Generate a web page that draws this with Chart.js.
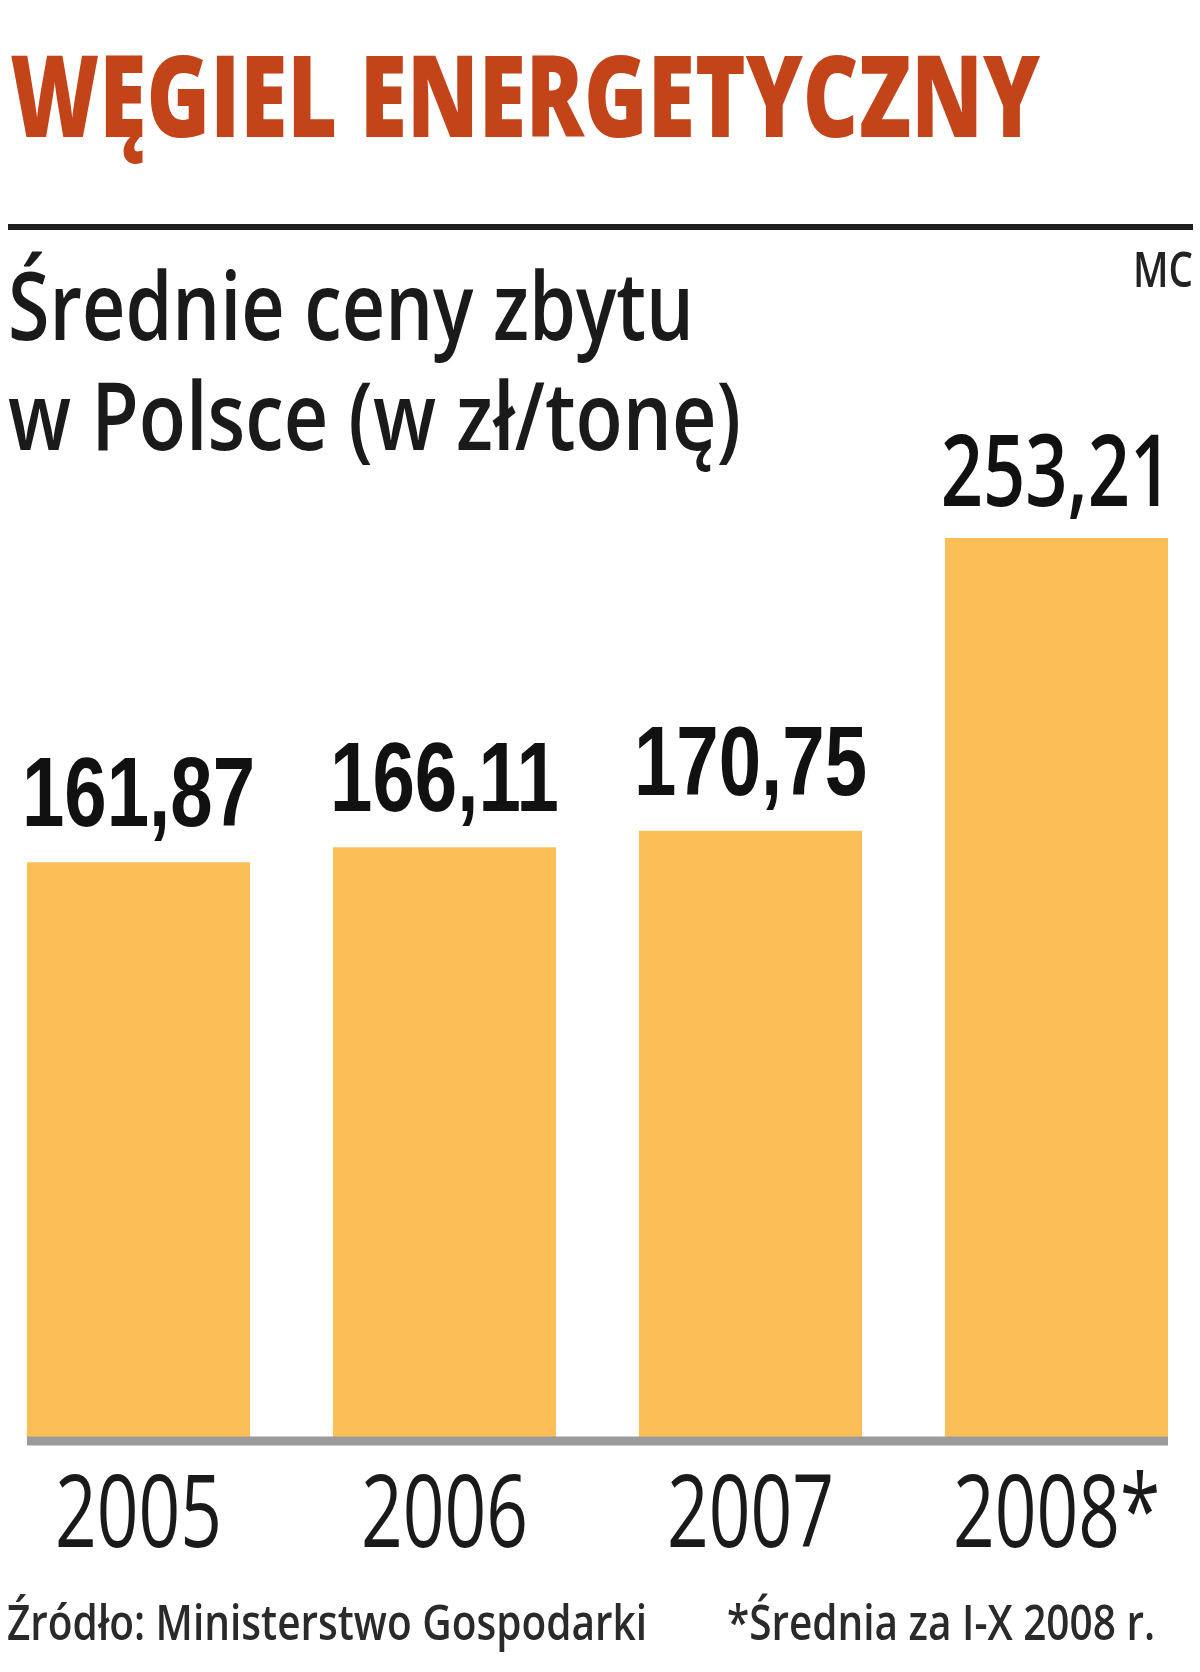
<!DOCTYPE html>
<html>
<head>
<meta charset="utf-8">
<script src="https://cdn.jsdelivr.net/npm/chart.js@4/dist/chart.umd.min.js"></script>
<style>
  html, body { margin: 0; padding: 0; background: #fff; }
  #wrap { width: 1200px; height: 1672px; }
</style>
</head>
<body>
<div id="wrap"><canvas id="wegiel"></canvas></div>
<script>
// dane
const years = ["2005", "2006", "2007", "2008*"];
const prices = [161.87, 166.11, 170.75, 253.21];

const tytul = "WĘGIEL ENERGETYCZNY";
const podtytul = ["Średnie ceny zbytu", "w Polsce (w zł/tonę)"];
const zrodlo = "Źródło: Ministerstwo Gospodarki";
const przypis = "*Średnia za I-X 2008 r.";
const autor = "MC";

// tekst sciskany do zadanej szerokosci
function fitText(ctx, txt, x, y, font, color, width, align) {
  ctx.save();
  ctx.font = font;
  ctx.fillStyle = color;
  ctx.textBaseline = "alphabetic";
  ctx.textAlign = "left";
  const w = ctx.measureText(txt).width;
  const sx = width / w;
  const left = align === "right" ? x - width : (align === "center" ? x - width / 2 : x);
  ctx.translate(left, y);
  ctx.scale(sx, 1);
  ctx.fillText(txt, 0, 0);
  ctx.restore();
}

function squeezeText(ctx, txt, x, y, font, color, sx) {
  ctx.save();
  ctx.font = font;
  ctx.fillStyle = color;
  ctx.textBaseline = "alphabetic";
  ctx.textAlign = "center";
  ctx.translate(x, y);
  ctx.scale(sx, 1);
  ctx.fillText(txt, 0, 0);
  ctx.restore();
}

const opisy = {
  id: "opisy",
  beforeDraw(chart) {
    const ctx = chart.ctx;
    ctx.save();
    ctx.fillStyle = "#fff";
    ctx.fillRect(0, 0, chart.width, chart.height);
    ctx.restore();

    fitText(ctx, tytul, 10, 137, "800 114px 'Open Sans'", "#c4441a", 1030);

    ctx.save();
    ctx.strokeStyle = "#1e1e1e";
    ctx.lineWidth = 6;
    ctx.beginPath();
    ctx.moveTo(8, 227);
    ctx.lineTo(1193, 227);
    ctx.stroke();
    ctx.restore();

    fitText(ctx, autor, 1193, 287, "600 48px 'Open Sans'", "#222", 60, "right");
    fitText(ctx, podtytul[0], 8, 340, "600 95px 'Open Sans'", "#1a1a1a", 686);
    fitText(ctx, podtytul[1], 8, 450, "600 95px 'Open Sans'", "#1a1a1a", 733);

    fitText(ctx, zrodlo, 7, 1640, "600 49px 'Open Sans'", "#2a2a2a", 640);
    fitText(ctx, przypis, 727, 1640, "600 49px 'Open Sans'", "#2a2a2a", 428);
  },
  afterDatasetsDraw(chart) {
    const ctx = chart.ctx;
    const meta = chart.getDatasetMeta(0);
    const xs = chart.scales.x;
    const y0 = chart.scales.y.getPixelForValue(0);
    const first = meta.data[0];
    const last = meta.data[meta.data.length - 1];

    // linia bazowa
    ctx.save();
    ctx.strokeStyle = "#9a9a9a";
    ctx.lineWidth = 9;
    ctx.beginPath();
    ctx.moveTo(first.x - first.width / 2, y0 + 4);
    ctx.lineTo(last.x + last.width / 2, y0 + 4);
    ctx.stroke();
    ctx.restore();

    // lata pod osia
    xs.ticks.forEach((t, i) => {
      squeezeText(ctx, xs.getLabelForValue(t.value), xs.getPixelForTick(i), y0 + 110,
        "400 100px 'Open Sans'", "#1a1a1a", 0.73);
    });

    // wartosci nad slupkami
    meta.data.forEach((bar, i) => {
      const txt = prices[i].toFixed(2).replace(".", ",");
      if (i < 3) {
        squeezeText(ctx, txt, bar.x, bar.y - 36, "bold 99px 'Liberation Sans'", "#111", 0.77);
      } else {
        squeezeText(ctx, txt, bar.x, bar.y - 32, "600 100px 'Open Sans'", "#111", 0.74);
      }
    });
  }
};

const config = {
  type: "bar",
  data: {
    labels: years,
    datasets: [
      {
        data: prices,
        backgroundColor: "#fcbf58",
        borderWidth: 0,
        categoryPercentage: 1,
        barPercentage: 0.729,
        clip: false,
      },
    ],
  },
  options: {
    responsive: true,
    maintainAspectRatio: false,
    animation: false,
    layout: { padding: { left: 138.5, right: 143.5, top: 372, bottom: 235 } },
    plugins: { legend: { display: false }, tooltip: { enabled: false } },
    scales: {
      x: {
        offset: false,
        grid: { display: false, drawTicks: false, tickLength: 0 },
        border: { display: false },
        ticks: { display: false, autoSkip: false },
      },
      y: {
        display: false,
        beginAtZero: true,
        min: 0,
        max: 300,
      },
    },
  },
  plugins: [opisy],
};

const wykres = new Chart(document.getElementById("wegiel"), config);
</script>
</body>
</html>
